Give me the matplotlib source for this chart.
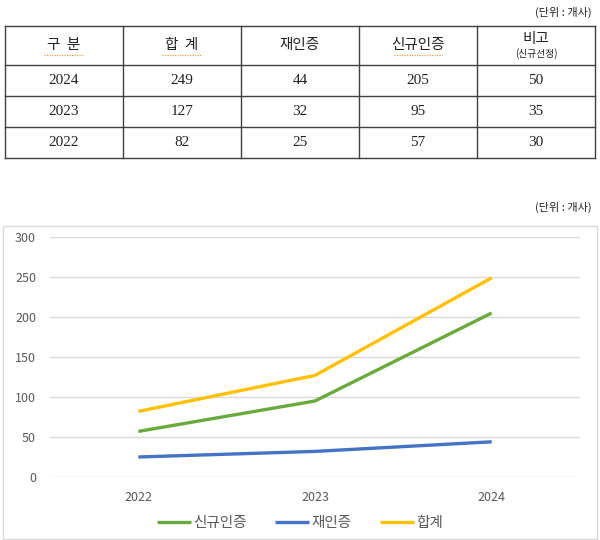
import matplotlib
matplotlib.use("Agg")
import matplotlib.pyplot as plt
from matplotlib.patches import Rectangle

plt.rcParams["font.family"] = ["Noto Sans CJK KR", "DejaVu Sans"]

# data
years = ["2022", "2023", "2024"]
new_cert = [57, 95, 205]      # 신규인증
re_cert = [25, 32, 44]        # 재인증
total = [82, 127, 249]        # 합계
remark = [30, 35, 50]         # 비고(신규선정)

col_labels = ["구  분", "합  계", "재인증", "신규인증", "비고"]
unit_label = "(단위 : 개사)"

W, H = 600, 540
fig = plt.figure(figsize=(W / 100, H / 100), dpi=100)


def fx(px):
    return px / W


def fy(py):
    return 1 - py / H


# ---------------- table ----------------
tab_left, tab_right, tab_top, tab_bottom = 5, 595, 26, 158
tax = fig.add_axes([fx(tab_left), fy(tab_bottom), fx(tab_right - tab_left),
                    (tab_bottom - tab_top) / H])
tax.set_axis_off()
row_h = [39, 31, 31, 31]
row_edges = [0]
for h in row_h:
    row_edges.append(row_edges[-1] + h)
ncol = len(col_labels)
tax.set_xlim(0, ncol)
tax.set_ylim(row_edges[-1], 0)

line_kw = dict(color="#404040", lw=1.0, clip_on=False)
for y in row_edges:
    tax.plot([0, ncol], [y, y], **line_kw)
for c in range(ncol + 1):
    tax.plot([c, c], [0, row_edges[-1]], **line_kw)

# header
hy = (row_edges[0] + row_edges[1]) / 2
for c, lab in enumerate(col_labels):
    if lab == "비고":
        tax.text(c + 0.5, hy - 6, lab, ha="center", va="center", fontsize=10.5, color="#222222")
        tax.text(c + 0.5, hy + 8, "(신규선정)", ha="center", va="center", fontsize=7, color="#222222")
    else:
        tax.text(c + 0.5, hy, lab, ha="center", va="center", fontsize=10.5, color="#222222")
# spell-check style underlines under some header labels
for c, half in [(0, 0.17), (1, 0.17), (3, 0.2)]:
    tax.plot([c + 0.5 - half, c + 0.5 + half], [hy + 10, hy + 10], color="#F0A040",
             lw=0.9, ls=(0, (1, 1)))

rows = list(zip(years, total, re_cert, new_cert, remark))[::-1]
for r, vals in enumerate(rows):
    cy = (row_edges[r + 1] + row_edges[r + 2]) / 2
    for c, v in enumerate(vals):
        tax.text(c + 0.5, cy, str(v), ha="center", va="center", fontsize=11,
                 family=["Liberation Serif", "DejaVu Serif"], color="#222222")

fig.text(fx(592), fy(12), unit_label, ha="right", va="center", fontsize=8, color="#222222")
fig.text(fx(592), fy(207), unit_label, ha="right", va="center", fontsize=8, color="#222222")

# ---------------- chart ----------------
fig.patches.append(Rectangle((fx(3), fy(539)), fx(594), (539 - 226) / H,
                             transform=fig.transFigure, fill=False,
                             edgecolor="#D9D9D9", lw=1.0))

ax = fig.add_axes([fx(50), fy(477), fx(530), (477 - 237) / H])
x = range(len(years))
ax.plot(x, new_cert, color="#6AAA3C", lw=2.4, label="신규인증", solid_capstyle="butt")
ax.plot(x, re_cert, color="#4472C4", lw=2.4, label="재인증", solid_capstyle="butt")
ax.plot(x, total, color="#FFC000", lw=2.4, label="합계", solid_capstyle="butt")

ax.set_xlim(-0.5, len(years) - 0.5)
ax.set_ylim(0, 300)
ax.set_yticks(range(0, 301, 50))
ax.set_xticks(list(x))
ax.set_xticklabels(years)
ax.grid(axis="y", color="#D9D9D9", lw=1.0)
ax.set_axisbelow(True)
for s in ax.spines.values():
    s.set_visible(False)
ax.tick_params(length=0, labelsize=9, labelcolor="#595959")
ax.tick_params(axis="y", pad=10)
ax.tick_params(axis="x", pad=10)

fig.legend(loc="center", bbox_to_anchor=(0.5, fy(523)), ncol=3, frameon=False,
           fontsize=10.5, handlelength=2.3, handletextpad=0.15, columnspacing=2.0,
           labelcolor="#595959")

fig.savefig("out.png", dpi=100)
